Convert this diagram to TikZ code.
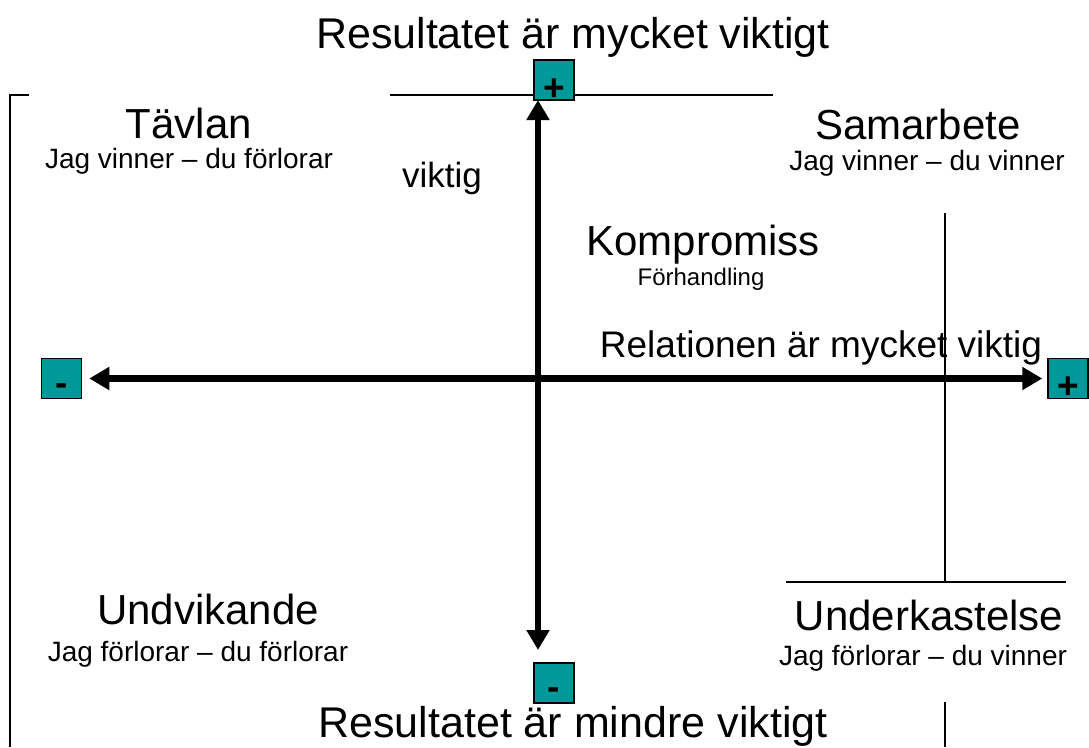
\documentclass[tikz,border=0pt]{standalone}
\usepackage{fontspec}
\setmainfont{Liberation Sans}
\usetikzlibrary{arrows.meta}
\definecolor{signteal}{RGB}{0,153,153}
\begin{document}
\begin{tikzpicture}[x=1pt,y=-1pt,
  title/.style={inner sep=0,anchor=base,font=\fontsize{43}{43}\selectfont},
  big/.style={inner sep=0,anchor=base,font=\fontsize{42}{42}\selectfont},
  small/.style={inner sep=0,anchor=base,font=\fontsize{28}{28}\selectfont},
  midtxt/.style={inner sep=0,anchor=base,font=\fontsize{35}{35}\selectfont},
  reltxt/.style={inner sep=0,anchor=base,font=\fontsize{37}{37}\selectfont},
  subtxt/.style={inner sep=0,anchor=base,font=\fontsize{24}{24}\selectfont},
  sign/.style={draw=black,line width=1.5pt,fill=signteal,minimum size=40pt,inner sep=0,
    font=\fontsize{37}{37}\selectfont\bfseries},
  plusbox/.style={sign,text height=40pt,text depth=0pt},
  minusbox/.style={sign,text height=33pt,text depth=0pt},
  axis/.style={line width=6.5pt,{Triangle[length=20pt,width=22pt]}-{Triangle[length=20pt,width=22pt]}},
  thinline/.style={line width=1.5pt},
  bracket/.style={line width=2pt},
]
\useasboundingbox (0,0) rectangle (1089,747);

% thin lines
\draw[thinline] (390,95) -- (773,95);
\draw[bracket] (29,95) -- (10,95) -- (10,747);
\draw[thinline] (945,213) -- (945,582);
\draw[thinline] (786,582) -- (1066,582);
\draw[thinline] (945,702) -- (945,747);

% sign boxes
\node[plusbox] (tp) at (554,80) {+};
\node[minusbox] (bm) at (554,683) {-};
\node[minusbox] (lm) at (61.5,378.5) {-};
\node[plusbox] (rp) at (1068,378.5) {+};

% axes
\coordinate (vtop) at (538,100);
\coordinate (vbot) at (538,650);
\draw[axis] (vtop) -- (vbot);
\draw[axis] ([xshift=7pt]lm.east) -- ([xshift=-5pt]rp.west);

% texts
\node[title] (rt) at (573,48) {Resultatet är mycket viktigt};
\node[title] (rb) at (573,737) {Resultatet är mindre viktigt};
\node[big] (tav) at (189,138) {Tävlan};
\node[small] (tavs) at (189,168) {Jag vinner – du förlorar};
\node[big] (sam) at (918,139) {Samarbete};
\node[small] (sams) at (927,170) {Jag vinner – du vinner};
\node[midtxt] (vik) at (442,187) {viktig};
\node[big] (komp) at (703,255) {Kompromiss};
\node[subtxt] (forh) at (701,285) {Förhandling};
\node[reltxt] (rel) at (821,357) {Relationen är mycket viktig};
\node[big] (und) at (208,624) {Undvikande};
\node[small] (unds) at (198,661) {Jag förlorar – du förlorar};
\node[big] (under) at (929,630) {Underkastelse};
\node[small] (unders) at (923,665) {Jag förlorar – du vinner};
\end{tikzpicture}
\end{document}
